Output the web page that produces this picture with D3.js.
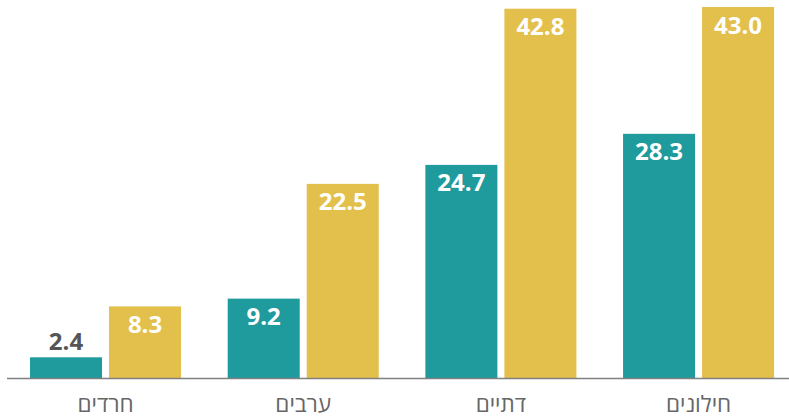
<!DOCTYPE html>
<html lang="he">
<head>
<meta charset="utf-8">
<script src="https://cdn.jsdelivr.net/npm/d3@7"></script>
<style>
  body { margin: 0; background: #fff; }
  svg { display: block; font-family: "Open Sans", sans-serif; }
</style>
</head>
<body>
<div id="chart"></div>
<script>
// categories (Hebrew) and the two series
const categories = ['חרדים', 'ערבים', 'דתיים', 'חילונים'];
const seriesKeys = ['a', 'b'];
const seriesA = [2.4, 9.2, 24.7, 28.3];
const seriesB = [8.3, 22.5, 42.8, 43.0];
const colors = { a: '#1f9b9d', b: '#e3bf4b' };

const data = categories.map((c, i) => ({ cat: c, a: seriesA[i], b: seriesB[i] }));

const width = 789, height = 417;
const baseY = 378;

const svg = d3.select('#chart')
  .append('svg')
  .attr('width', width)
  .attr('height', height);

// outer scale for groups
const x0 = d3.scaleBand()
  .domain(categories)
  .range([6.7, 797.4])
  .paddingInner(0.236)
  .paddingOuter(0.118);

// inner scale for the two bars
const x1 = d3.scaleBand()
  .domain(seriesKeys)
  .range([0, x0.bandwidth()])
  .paddingInner(0.0886);

const y = d3.scaleLinear()
  .domain([0, 43])
  .range([baseY, 7]);

const groups = svg.selectAll('.group')
  .data(data)
  .enter().append('g')
  .attr('class', 'group')
  .attr('transform', d => `translate(${x0(d.cat)},0)`);

groups.selectAll('rect')
  .data(d => seriesKeys.map(k => ({ key: k, value: d[k] })))
  .enter().append('rect')
  .attr('x', d => x1(d.key))
  .attr('y', d => y(d.value))
  .attr('width', x1.bandwidth())
  .attr('height', d => baseY - y(d.value))
  .attr('fill', d => colors[d.key]);

// value labels: inside the bar when it is tall enough, else above it
groups.selectAll('.val')
  .data(d => seriesKeys.map(k => ({ key: k, value: d[k] })))
  .enter().append('text')
  .attr('class', 'val')
  .attr('x', d => x1(d.key) + x1.bandwidth() / 2)
  .attr('y', d => (baseY - y(d.value)) > 35 ? y(d.value) + 26.5 : y(d.value) - 7)
  .attr('text-anchor', 'middle')
  .attr('font-size', '24px')
  .attr('font-weight', 'bold')
  .attr('fill', d => (baseY - y(d.value)) > 35 ? '#fff' : '#555')
  .text(d => d.value.toFixed(1));

// baseline
svg.append('line')
  .attr('x1', 7)
  .attr('x2', width)
  .attr('y1', baseY + 0.5)
  .attr('y2', baseY + 0.5)
  .attr('stroke', '#808080')
  .attr('stroke-width', 1.5);

// category labels
const xAxis = d3.axisBottom(x0).tickSize(0).tickPadding(0);
const ax = svg.append('g')
  .attr('transform', `translate(0,${baseY})`)
  .call(xAxis);
ax.select('.domain').remove();
ax.selectAll('text')
  .attr('y', 34)
  .attr('dy', 0)
  .attr('font-family', '"Open Sans", sans-serif')
  .attr('font-size', '22.5px')
  .attr('fill', '#666');
</script>
</body>
</html>
